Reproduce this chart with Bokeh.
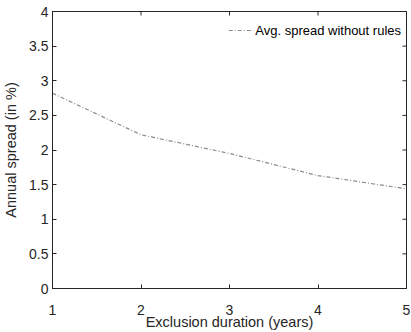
import math
from bokeh.plotting import figure
from bokeh.models import FixedTicker, Range1d, Legend, LegendItem
from bokeh.embed import file_html
from bokeh.resources import INLINE

durations = [1, 2, 3, 4, 5]
avg_spread = [2.82, 2.22, 1.95, 1.63, 1.44]
x_ticks = [1, 2, 3, 4, 5]
y_ticks = [0, 0.5, 1, 1.5, 2, 2.5, 3, 3.5, 4]

FONT = "Liberation Sans"
AX = "#262626"
X_MIN, X_MAX = x_ticks[0], x_ticks[-1]
Y_MIN, Y_MAX = y_ticks[0], y_ticks[-1]

p = figure(width=411, height=332, output_backend="svg", toolbar_location=None,
           x_range=Range1d(X_MIN, X_MAX), y_range=Range1d(Y_MIN, Y_MAX),
           min_border_left=50, min_border_right=5, min_border_top=11, min_border_bottom=44,
           x_axis_label="Exclusion duration (years)", y_axis_label="Annual spread (in %)")
p.grid.visible = False
p.outline_line_color = AX
p.outline_line_width = 1
p.background_fill_color = "white"
p.border_fill_color = "white"

for ax in (p.xaxis[0], p.yaxis[0]):
    ax.major_tick_in = 4
    ax.major_tick_out = 0
    ax.minor_tick_line_color = None
    ax.axis_line_color = AX
    ax.major_tick_line_color = AX
    ax.major_label_text_font = FONT
    ax.major_label_text_font_size = "14px"
    ax.major_label_text_color = AX
    ax.axis_label_text_font = FONT
    ax.axis_label_text_font_size = "14.5px"
    ax.axis_label_text_font_style = "normal"
    ax.axis_label_text_color = AX
p.xaxis[0].ticker = FixedTicker(ticks=x_ticks)
p.yaxis[0].ticker = FixedTicker(ticks=y_ticks)
p.yaxis[0].major_label_overrides = {0: "0", 1: "1", 2: "2", 3: "3", 4: "4"}
p.xaxis[0].major_label_standoff = 16
p.xaxis[0].axis_label_standoff = -4
p.yaxis[0].major_label_standoff = 4
p.yaxis[0].axis_label_standoff = 7

# mirrored inward ticks on top and right edges (half of each dash is clipped by the frame)
p.scatter(x_ticks, [Y_MAX] * len(x_ticks), marker="dash", size=8, angle=math.pi / 2,
          line_color=AX, line_width=1)
p.scatter([X_MAX] * len(y_ticks), y_ticks, marker="dash", size=8,
          line_color=AX, line_width=1)

r = p.line(durations, avg_spread, line_color="#8c8c8c", line_width=1.2, line_dash="4 2 1 2")

legend = Legend(items=[LegendItem(label="Avg. spread without rules", renderers=[r])],
                location="top_right", border_line_color=None, background_fill_alpha=0,
                label_text_font=FONT, label_text_font_size="13px", label_text_color="black",
                glyph_width=25, glyph_height=28, label_height=28, label_standoff=2,
                padding=5, margin=5)
p.add_layout(legend)

open("out.html", "w").write(file_html(p, INLINE))
